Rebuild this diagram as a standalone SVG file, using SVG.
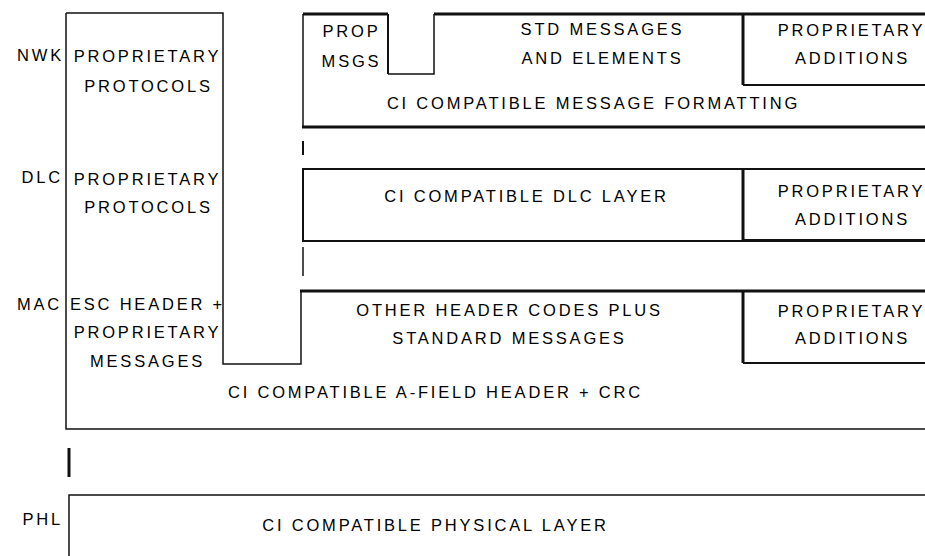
<svg xmlns="http://www.w3.org/2000/svg" width="925" height="556" viewBox="0 0 925 556">
<style>
.t{font-family:"Liberation Sans",Arial,sans-serif;font-size:16.5px;letter-spacing:2.8px;fill:#000;text-anchor:middle}
.l{font-family:"Liberation Sans",Arial,sans-serif;font-size:16.5px;letter-spacing:2.8px;fill:#000;text-anchor:end}
.thin{fill:none;stroke:#111;stroke-width:1.5}
.mid{fill:none;stroke:#111;stroke-width:2}
.thick{fill:none;stroke:#111;stroke-width:3}
</style>
<rect width="925" height="556" fill="#fff"/>
<g id="labels">
<text class="l" x="64" y="61">NWK</text>
<text class="l" x="63" y="183">DLC</text>
<text class="l" x="62" y="310">MAC</text>
<text class="l" x="63" y="525">PHL</text>
</g>
<g id="proprietary-stack">
<path class="thin" d="M66,13 H223 V364 H301 V291"/>
<path class="thin" d="M66,13 V429 H925"/>
<text class="t" x="147.5" y="62">PROPRIETARY</text>
<text class="t" x="148.5" y="92">PROTOCOLS</text>
<text class="t" x="147.5" y="185">PROPRIETARY</text>
<text class="t" x="148.5" y="213">PROTOCOLS</text>
<text class="t" x="147.5" y="310">ESC HEADER +</text>
<text class="t" x="147.5" y="338">PROPRIETARY</text>
<text class="t" x="147.5" y="367">MESSAGES</text>
<text class="t" x="435.5" y="398">CI COMPATIBLE A-FIELD HEADER + CRC</text>
</g>
<g id="nwk-layer">
<path class="thick" d="M303,14 H388 M434,14 H925"/>
<path class="thin" d="M303,14 V127"/>
<path class="mid" d="M388,14 V74"/>
<path class="thin" d="M388,74 H434 V14"/>
<path class="thick" d="M302,127 H925"/>
<path class="thick" d="M743,14 V85"/>
<path class="mid" d="M743,85 H925"/>
<text class="t" x="351.5" y="37">PROP</text>
<text class="t" x="351.5" y="67">MSGS</text>
<text class="t" x="602.5" y="35">STD MESSAGES</text>
<text class="t" x="602.5" y="64">AND ELEMENTS</text>
<text class="t" x="851.5" y="36">PROPRIETARY</text>
<text class="t" x="852.5" y="64">ADDITIONS</text>
<text class="t" x="593.5" y="109">CI COMPATIBLE MESSAGE FORMATTING</text>
</g>
<g id="dlc-layer">
<path class="mid" d="M925,169 H303 V241 H925"/>
<path class="thick" d="M743,169 V240"/>
<path class="mid" d="M743,240 H925"/>
<text class="t" x="526.5" y="202">CI COMPATIBLE DLC LAYER</text>
<text class="t" x="851.5" y="197">PROPRIETARY</text>
<text class="t" x="852.5" y="225">ADDITIONS</text>
</g>
<g id="mac-layer">
<path class="thick" d="M300,291 H925"/>
<path class="thick" d="M743,291 V363"/>
<path class="mid" d="M743,363 H925"/>
<text class="t" x="509.5" y="316">OTHER HEADER CODES PLUS</text>
<text class="t" x="509.5" y="344">STANDARD MESSAGES</text>
<text class="t" x="851.5" y="317">PROPRIETARY</text>
<text class="t" x="852.5" y="344">ADDITIONS</text>
</g>
<g id="phl-layer">
<path class="thin" d="M69,556 V495 H925"/>
<text class="t" x="435.5" y="531">CI COMPATIBLE PHYSICAL LAYER</text>
</g>
<g id="connectors">
<path class="mid" d="M303,141 V155"/>
<path class="thin" d="M303,247 V276"/>
<path class="thick" d="M69,448 V477"/>
</g>
</svg>
